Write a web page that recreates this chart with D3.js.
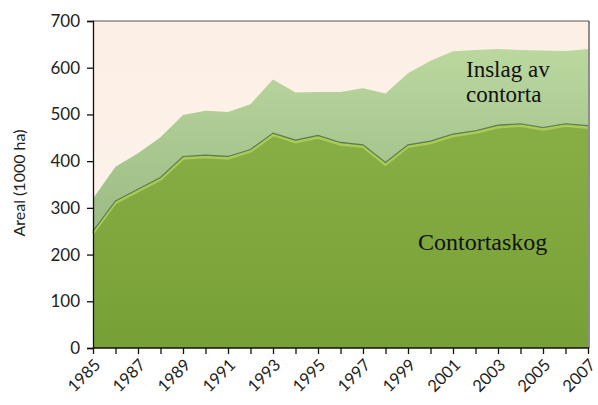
<!DOCTYPE html>
<html>
<head>
<meta charset="utf-8">
<script src="https://cdn.jsdelivr.net/npm/d3@7"></script>
<style>
  body { margin: 0; background: #fff; }
  svg { display: block; }
  .tick text { font-family: Lato, "Open Sans", sans-serif; fill: #222; }
</style>
</head>
<body>
<svg id="chart" width="598" height="405"></svg>
<script>
var years = [1985,1986,1987,1988,1989,1990,1991,1992,1993,1994,1995,1996,1997,1998,1999,2000,2001,2002,2003,2004,2005,2006,2007];
var contortaskog = [250,315,340,365,410,413,410,425,460,445,455,440,435,397,435,443,458,465,477,480,472,480,476];
var inslag = [70,73,77,86,89,95,95,97,115,102,93,108,121,148,153,172,177,173,163,158,165,156,164];
var yTicks = [0,100,200,300,400,500,600,700];
var xLabelYears = [1985,1987,1989,1991,1993,1995,1997,1999,2001,2003,2005,2007];

var svg = d3.select("#chart");
// note: "top" is a reserved window property, so use other names
var plotLeft = 93, plotRight = 588, plotTop = 21, plotBottom = 348;

var xScale = d3.scaleLinear().domain([1985, 2007]).range([plotLeft, plotRight]);
var yScale = d3.scaleLinear().domain([0, 700]).range([plotBottom, plotTop]);

var rows = years.map(function(y, i){
  return {year: y, contortaskog: contortaskog[i], inslag: inslag[i]};
});
var stack = d3.stack().keys(["contortaskog", "inslag"]);
var series = stack(rows);

var defs = svg.append("defs");
var gLow = defs.append("linearGradient").attr("id", "gLow")
  .attr("gradientUnits", "userSpaceOnUse")
  .attr("x1", 0).attr("y1", 150).attr("x2", 0).attr("y2", plotBottom);
gLow.append("stop").attr("offset", 0).attr("stop-color", "#87ad45");
gLow.append("stop").attr("offset", 1).attr("stop-color", "#76a036");

var gHigh = defs.append("linearGradient").attr("id", "gHigh")
  .attr("gradientUnits", "userSpaceOnUse")
  .attr("x1", 0).attr("y1", 40).attr("x2", 0).attr("y2", 240);
gHigh.append("stop").attr("offset", 0).attr("stop-color", "#bcd9a0");
gHigh.append("stop").attr("offset", 1).attr("stop-color", "#99ba82");

var gBg = defs.append("linearGradient").attr("id", "gBg")
  .attr("x1", 0).attr("y1", 0).attr("x2", 0).attr("y2", 1);
gBg.append("stop").attr("offset", 0).attr("stop-color", "#fcefe5");
gBg.append("stop").attr("offset", 1).attr("stop-color", "#fdf5ee");

// plot background
svg.append("rect")
  .attr("x", plotLeft).attr("y", plotTop)
  .attr("width", plotRight - plotLeft).attr("height", plotBottom - plotTop)
  .attr("fill", "url(#gBg)");

var area = d3.area()
  .x(function(d){ return xScale(d.data.year); })
  .y0(function(d){ return yScale(d[0]); })
  .y1(function(d){ return yScale(d[1]); });

svg.append("path")
  .datum(series[1])
  .attr("d", area)
  .attr("fill", "url(#gHigh)");

svg.append("path")
  .datum(series[0])
  .attr("d", area)
  .attr("fill", "url(#gLow)");

// highlight and dark edge on top of contortaskog
var edge = d3.line()
  .x(function(d){ return xScale(d.data.year); })
  .y(function(d){ return yScale(d[1]); });

svg.append("path")
  .datum(series[0])
  .attr("d", edge)
  .attr("transform", "translate(0,2)")
  .attr("fill", "none")
  .attr("stroke", "#a8cc55")
  .attr("stroke-width", 2.5);

svg.append("path")
  .datum(series[0])
  .attr("d", edge)
  .attr("fill", "none")
  .attr("stroke", "#5f7b52")
  .attr("stroke-width", 1.2);

// frame top and right
svg.append("line")
  .attr("x1", plotLeft).attr("x2", plotRight + 1)
  .attr("y1", plotTop).attr("y2", plotTop)
  .attr("stroke", "#555").attr("stroke-width", 1.2);
svg.append("line")
  .attr("x1", plotRight + 1).attr("x2", plotRight + 1)
  .attr("y1", plotTop).attr("y2", plotBottom)
  .attr("stroke", "#444").attr("stroke-width", 1.2);

// axes
var yAxis = d3.axisLeft(yScale).tickValues(yTicks).tickSize(6).tickPadding(7);
var yg = svg.append("g")
  .attr("transform", "translate(" + plotLeft + ",0)")
  .call(yAxis);
yg.selectAll("text").style("font-size", "17px");
yg.selectAll("line, path").attr("stroke", "#111").attr("stroke-width", 1.3);

var xAxis = d3.axisBottom(xScale)
  .tickValues(years)
  .tickSize(6)
  .tickFormat(function(d){ return xLabelYears.indexOf(d) >= 0 ? d : ""; });
var xg = svg.append("g")
  .attr("transform", "translate(0," + plotBottom + ")")
  .call(xAxis);
xg.select(".domain").attr("d", "M" + plotLeft + ",0H" + (plotRight + 1));
xg.selectAll("line, path").attr("stroke", "#111").attr("stroke-width", 1.3);
xg.selectAll("text")
  .style("font-size", "16.5px")
  .attr("text-anchor", "end")
  .attr("dy", null)
  .attr("y", 0)
  .attr("transform", "translate(8,18) rotate(-45)");

// y axis title
svg.append("text")
  .attr("transform", "translate(25,183) rotate(-90)")
  .attr("text-anchor", "middle")
  .attr("font-family", "Lato, 'Open Sans', sans-serif")
  .attr("font-size", 16)
  .attr("fill", "#222")
  .text("Areal (1000 ha)");

// series labels
var lab = svg.append("text")
  .attr("font-family", "'Liberation Serif', 'Times New Roman', serif")
  .attr("font-size", 23)
  .attr("fill", "#111");
lab.append("tspan").attr("x", 466).attr("y", 77).text("Inslag av");
lab.append("tspan").attr("x", 466).attr("y", 102).text("contorta");

svg.append("text")
  .attr("x", 418).attr("y", 250)
  .attr("font-family", "'Liberation Serif', 'Times New Roman', serif")
  .attr("font-size", 24)
  .attr("fill", "#111")
  .text("Contortaskog");
</script>
</body>
</html>
